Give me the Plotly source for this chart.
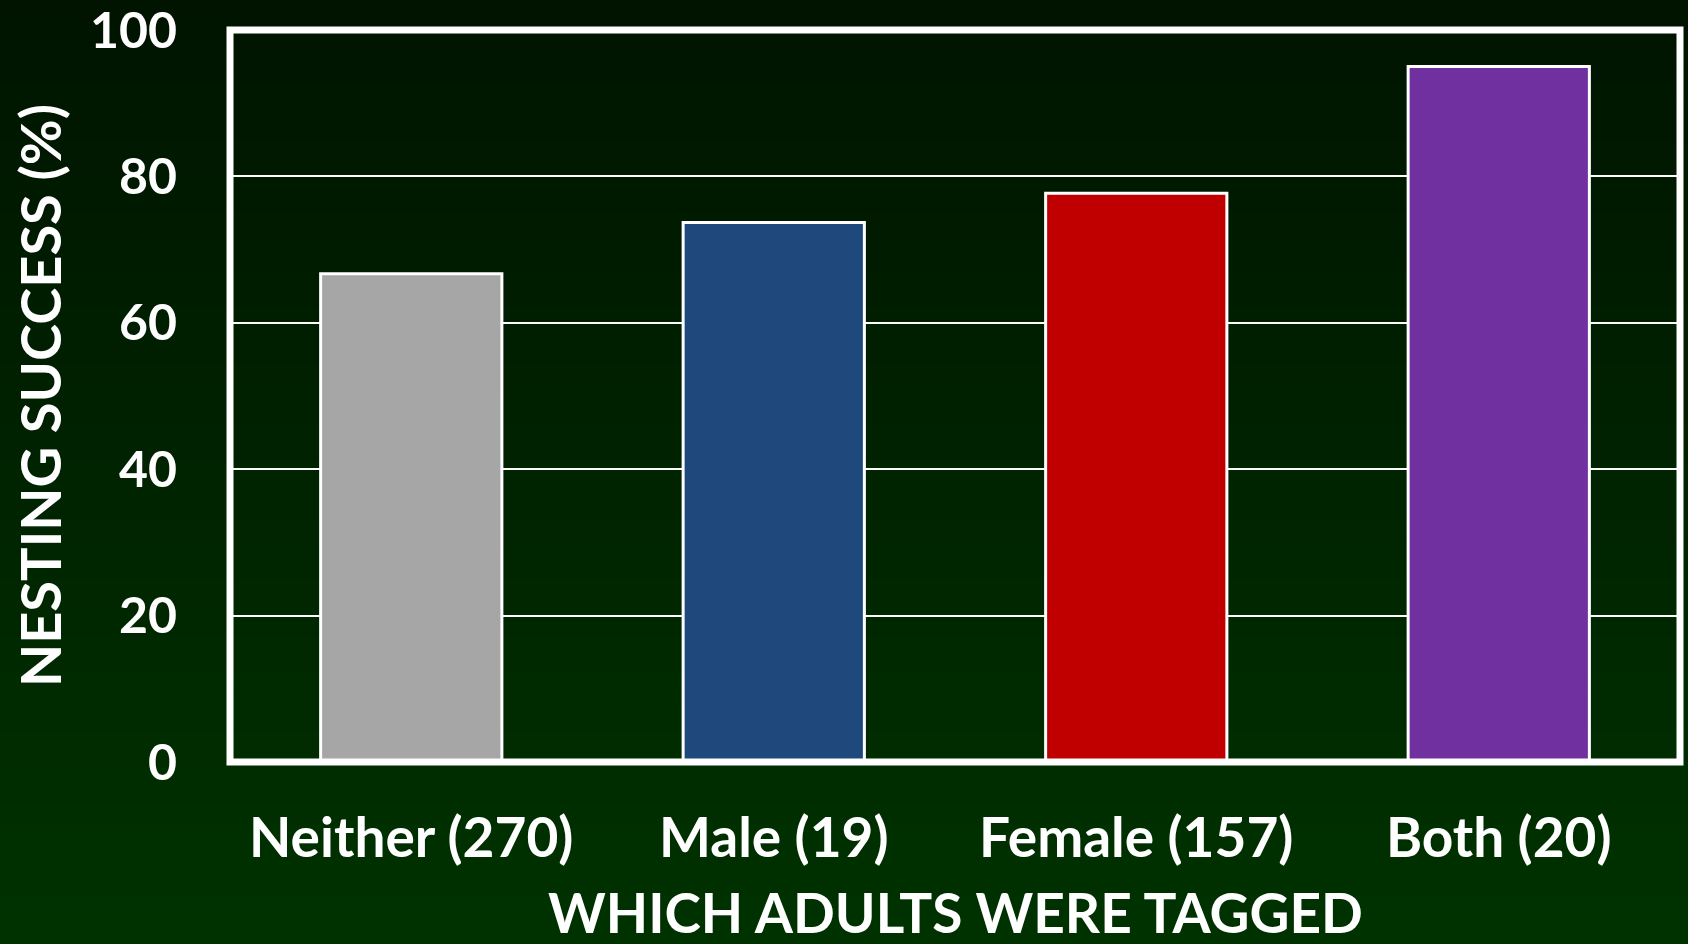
import plotly.graph_objects as go

# Nesting success by which adults of the pair carried tags
categories = ["Neither (270)", "Male (19)", "Female (157)", "Both (20)"]
success_pct = [66.7, 73.7, 77.7, 95.0]
bar_colors = ["#a6a6a6", "#1f497d", "#c00000", "#7030a0"]
y_ticks = [0, 20, 40, 60, 80, 100]

W, H = 1688, 944
M = dict(l=230, r=8, t=30, b=182)
plot_w = W - M["l"] - M["r"]
plot_h = H - M["t"] - M["b"]

FONT = "Lato"


def paper_y(px):
    return (H - M["b"] - px) / plot_h


def paper_x(px):
    return (px - M["l"]) / plot_w


# Vertical dark-green gradient behind the whole figure, built from thin bands
top_rgb = (0, 20, 0)
bot_rgb = (0, 50, 0)
n_bands = 80
shapes = []
for i in range(n_bands):
    f = i / (n_bands - 1)
    r = round(top_rgb[0] + (bot_rgb[0] - top_rgb[0]) * f)
    g = round(top_rgb[1] + (bot_rgb[1] - top_rgb[1]) * f)
    b = round(top_rgb[2] + (bot_rgb[2] - top_rgb[2]) * f)
    px0 = H * i / n_bands - 1
    px1 = H * (i + 1) / n_bands + 1
    shapes.append(dict(
        type="rect", xref="paper", yref="paper", layer="below",
        x0=paper_x(-2), x1=paper_x(W + 2), y0=paper_y(px1), y1=paper_y(px0),
        fillcolor=f"rgb({r},{g},{b})", line=dict(width=0),
    ))

# White frame around the plotting area
shapes.append(dict(
    type="rect", xref="paper", yref="paper", layer="above",
    x0=0, x1=1, y0=0, y1=1, line=dict(color="white", width=7),
))

fig = go.Figure(go.Bar(
    x=categories,
    y=success_pct,
    marker=dict(color=bar_colors, line=dict(color="white", width=3)),
    width=0.5,
    hoverinfo="x+y",
))

fig.update_layout(
    width=W, height=H,
    margin=dict(M, autoexpand=False),
    paper_bgcolor="#002000",
    plot_bgcolor="rgba(0,0,0,0)",
    showlegend=False,
    shapes=shapes,
    font=dict(family=FONT, color="white", weight="bold"),
    xaxis=dict(
        showgrid=False, zeroline=False, showline=False, automargin=False,
        ticks="", ticklabelstandoff=39,
        tickfont=dict(family=FONT, size=55, color="white", weight="bold"),
    ),
    yaxis=dict(
        range=[0, 100], tickvals=y_ticks, ticks="", automargin=False,
        showgrid=True, gridcolor="white", gridwidth=2,
        zeroline=False, showline=False, ticklabelstandoff=52,
        ticklabeloverflow="allow",
        tickfont=dict(family=FONT, size=50, color="white", weight="bold"),
    ),
    annotations=[
        dict(text="WHICH ADULTS WERE TAGGED", xref="paper", yref="paper",
             x=0.5, y=paper_y(912), xanchor="center", yanchor="middle",
             showarrow=False,
             font=dict(family=FONT, size=55, color="white", weight="bold")),
        dict(text="NESTING SUCCESS (%)", xref="paper", yref="paper",
             x=paper_x(39), y=0.5, xanchor="center", yanchor="middle",
             textangle=-90, showarrow=False,
             font=dict(family=FONT, size=56, color="white", weight="bold")),
    ],
)

fig.write_html("out.html")
